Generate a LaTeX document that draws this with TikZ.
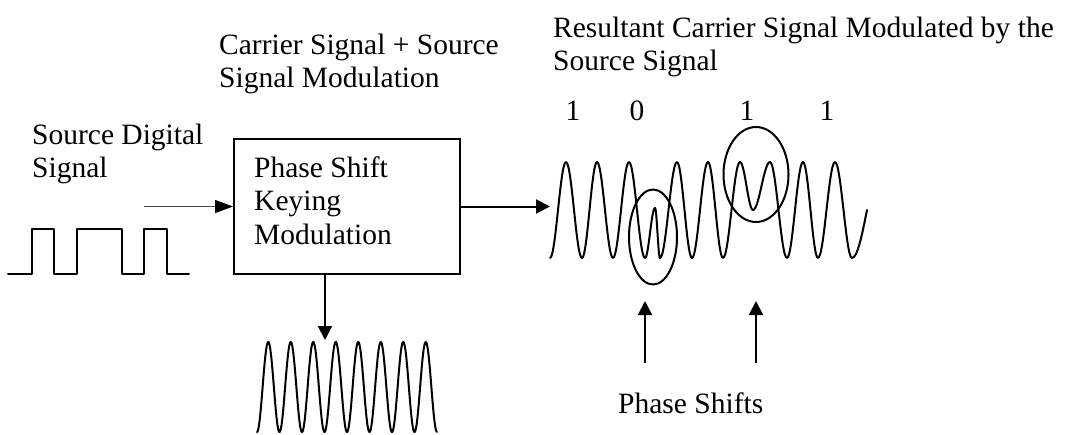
\documentclass[tikz,border=0pt]{standalone}
\usepackage{fontspec}
\setmainfont{Liberation Serif}
\usetikzlibrary{arrows.meta,shapes.geometric}
\tikzset{
  txt/.style={font=\fontsize{29.5}{33.5}\selectfont, inner sep=0pt, align=left},
  wave/.style={line width=2pt, line join=round, line cap=round},
  arr/.style={line width=2pt, -{Triangle[length=14pt,width=14pt]}},
  thinarr/.style={line width=1pt, draw=black!70, -{Triangle[length=18pt,width=13pt,fill=black,color=black]}},
  box/.style={draw, line width=2pt, minimum width=226pt, minimum height=135pt, inner sep=0pt},
  ring/.style={draw, ellipse, line width=2pt, inner sep=0pt},
}
\begin{document}
\begin{tikzpicture}[x=1pt,y=-1pt]
\useasboundingbox (0,0) rectangle (1066,434);

% texts (base anchor = baseline of the last line)
\node[txt, anchor=base west] (src) at (32,177.5) {Source Digital\\Signal};
\node[txt, anchor=base west] (cs) at (219,87.5) {Carrier Signal + Source\\Signal Modulation};
\node[txt, anchor=base west] (res) at (553,70.5) {Resultant Carrier Signal Modulated by the\\Source Signal};
\node[txt, anchor=base] (b1) at (573,120) {1};
\node[txt, anchor=base] (b2) at (637,120) {0};
\node[txt, anchor=base] (b3) at (747,120) {1};
\node[txt, anchor=base] (b4) at (827,120) {1};
\node[txt, anchor=base west] (ps) at (618,413) {Phase Shifts};

% modulator box
\node[box] (psk) at (347,206.5) {};
\node[txt, anchor=base west] (psktxt) at (254,244) {Phase Shift\\Keying\\Modulation};

% source square wave
\draw[wave] (8,274) -- (32,274) -- (32,229) -- (54,229) -- (54,274) -- (77,274) -- (77,229)
  -- (122,229) -- (122,274) -- (144,274) -- (144,229) -- (167,229) -- (167,274) -- (189,274);

% carrier
\draw[wave] plot[domain=0:8, samples=500, smooth] ({257+22.5*\x}, {387+45*cos(360*\x)});

% modulated signal
\draw[wave] (550,258)
  cos (558,210) sin (566,162) cos (574,210) sin (582,258)
  cos (589.5,210) sin (597,162) cos (605,210) sin (613,258)
  cos (621,210) sin (629,162) cos (637,210) sin (645,258)
  cos (650,233) sin (655,208) cos (657.5,233) sin (660,258)
  cos (668.5,210) sin (677,162) cos (684.5,210) sin (692,258)
  cos (700,210) sin (708,162) cos (715.5,210) sin (723,258)
  cos (731.5,210) sin (740,162) cos (746.5,186) sin (753,210)
  cos (761.5,186) sin (770,162) cos (778.5,210) sin (787,258)
  cos (795,210) sin (803,162) cos (810.5,210) sin (818,258)
  cos (826.5,210) sin (835,162) cos (843.5,210) sin (852,258)
  cos (867,210);

% ellipses
\node[ring, minimum width=48pt, minimum height=95pt] (e1) at (653,237) {};
\node[ring, minimum width=65pt, minimum height=95pt] (e2) at (756,174.5) {};

% connectors
\coordinate (srcin) at (144,206.5);
\coordinate (modin) at (550,206.5);
\coordinate (carrtop) at (325,340);
\coordinate (ua1) at (645,363);
\coordinate (ua1t) at (645,301);
\coordinate (ua2) at (756,363);
\coordinate (ua2t) at (756,301);
\draw[thinarr] (srcin) -- (psk.west);
\draw[arr] (psk.east) -- (modin);
\draw[arr] (psk.south -| carrtop) -- (carrtop);
\draw[arr] (ua1) -- (ua1t);
\draw[arr] (ua2) -- (ua2t);
\end{tikzpicture}
\end{document}
